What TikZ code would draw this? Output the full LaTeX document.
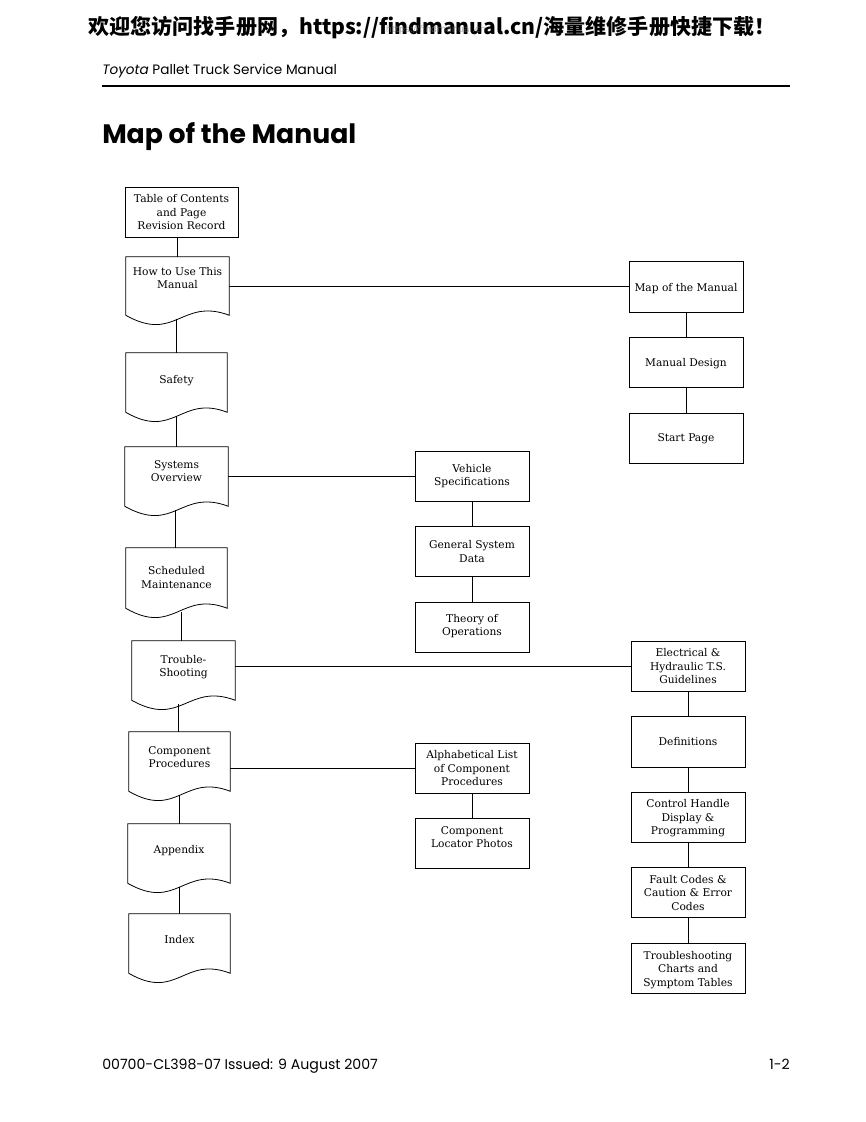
\documentclass[tikz,border=0pt]{standalone}
\usepackage{fontspec}
\setmainfont{DejaVu Serif}
\newfontfamily\boxfont{DejaVu Serif}
\newfontfamily\hdr{Poppins}
\newfontfamily\cjk{Noto Sans CJK SC}
\newfontfamily\wmfont{DejaVu Sans}
\usetikzlibrary{calc}
\newcommand\T[2]{\raisebox{\dimexpr#1pt-3.4pt\relax}[0pt][0pt]{\begin{tabular}{@{}c@{}}#2\end{tabular}}}
\tikzset{
  ln/.style={line width=0.6pt, draw=black},
  bx/.style 2 args={draw, line width=0.6pt, minimum width=#1*0.75pt, minimum height=#2*0.75pt,
     inner sep=0pt, font=\boxfont\fontsize{8}{10.1}\selectfont},
  dc/.style 2 args={draw=none, minimum width=#1*0.75pt, minimum height=#2*0.75pt,
     inner sep=0pt, font=\boxfont\fontsize{8}{10.1}\selectfont},
}
\newcommand\wave[1]{\draw[ln] (#1.south west) -- (#1.north west) -- (#1.north east) -- (#1.south east)
   .. controls ($(#1.south)+(4,-18)$) and ($(#1.south)+(-2,28)$) .. (#1.south west) -- cycle;}
\begin{document}
\begin{tikzpicture}[x=0.75pt,y=-0.75pt]
\useasboundingbox (0,0) rectangle (866,1122);
% header
\node[font=\cjk\bfseries\fontsize{15.8}{18}\selectfont, inner sep=0pt] (cn) at (432,28) {欢迎您访问找手册网，https://findmanual.cn/海量维修手册快捷下载！};
\node[font=\wmfont\fontsize{7}{8}\selectfont, text=gray, opacity=0.6, inner sep=0pt] (wm) at (436,30) {https://findmanual.cn};
\node[font=\hdr\fontsize{10.2}{12}\selectfont, anchor=base west, inner sep=0pt] (run) at (102,74) {\textit{Toyota} Pallet Truck Service Manual};
\coordinate (rl) at (102,86);
\coordinate (rr) at (790,86);
\draw[line width=1.5pt] (rl) -- (rr);
\node[font=\hdr\bfseries\fontsize{20}{24}\selectfont, anchor=base west, inner sep=0pt] (title) at (102,143) {Map of the Manual};
% left column
\node[bx={113}{50}] (toc) at (181.5,212) {\T{0.4}{Table of Contents\\and Page\\Revision Record}};
\node[dc={103}{58}] (howto) at (177.5,286) {\T{6.4}{How to Use This\\Manual}};
\node[dc={101}{59}] (safety) at (176.5,382.5) {\T{2.6}{Safety}};
\node[dc={103}{59}] (sys) at (176.5,476.5) {\T{4.5}{Systems\\Overview}};
\node[dc={101}{60}] (sched) at (176.5,578) {\T{0.75}{Scheduled\\Maintenance}};
\node[dc={103}{59}] (trouble) at (183.5,670.5) {\T{3.75}{Trouble-\\Shooting}};
\node[dc={101}{59}] (comp) at (179.5,761.5) {\T{3.75}{Component\\Procedures}};
\node[dc={102}{59}] (app) at (179,853.5) {\T{3.4}{Appendix}};
\node[dc={101}{59}] (index) at (179.5,943.5) {\T{3.4}{Index}};
\wave{howto}\wave{safety}\wave{sys}\wave{sched}\wave{trouble}\wave{comp}\wave{app}\wave{index}
% middle column
\node[bx={114}{50}] (veh) at (472,476) {\T{1.1}{Vehicle\\Specifications}};
\node[bx={114}{50}] (gen) at (472,551) {\T{0}{General System\\Data}};
\node[bx={114}{50}] (theory) at (472,627) {\T{1.9}{Theory of\\Operations}};
\node[bx={114}{50}] (alpha) at (472,768) {\T{0.4}{Alphabetical List\\of Component\\Procedures}};
\node[bx={114}{50}] (locator) at (472,843) {\T{4.9}{Component\\Locator Photos}};
% right column
\node[bx={114}{51}] (map) at (686,286.5) {\T{0}{Map of the Manual}};
\node[bx={114}{50}] (design) at (686,362) {\T{0}{Manual Design}};
\node[bx={114}{50}] (start) at (686,438) {\T{0.75}{Start Page}};
\node[bx={114}{50}] (elec) at (688,666) {\T{0.4}{Electrical \&\\Hydraulic T.S.\\Guidelines}};
\node[bx={114}{51}] (defs) at (688,741.5) {\T{0.4}{Definitions}};
\node[bx={114}{50}] (ctrl) at (688,817) {\T{0.4}{Control Handle\\Display \&\\Programming}};
\node[bx={114}{50}] (fault) at (688,892) {\T{0}{Fault Codes \&\\Caution \& Error\\Codes}};
\node[bx={114}{50}] (tsc) at (688,968) {\T{0}{Troubleshooting\\Charts and\\Symptom Tables}};
% vertical connectors, left (start on the wavy edge)
\draw[ln] (howto.north) -- (howto.north |- toc.south);
\draw[ln] (safety.north) -- ($(safety.north |- howto.south)+(0,4)$);
\draw[ln] (sys.north) -- ($(sys.north |- safety.south)+(0,4)$);
\draw[ln] ($(sched.north)+(-1.5,0)$) -- ($(sched.north |- sys.south)+(-1.5,4)$);
\draw[ln] ($(trouble.north)+(-2.5,0)$) -- ($(trouble.north |- sched.south)+(-2.5,4)$);
\draw[ln] ($(comp.north)+(-1.5,0)$) -- ($(comp.north |- trouble.south)+(-1.5,4)$);
\draw[ln] (app.north) -- ($(app.north |- comp.south)+(0,4)$);
\draw[ln] (index.north) -- ($(index.north |- app.south)+(0,4)$);
% horizontal connectors
\draw[ln] (map.west) -- (map.west -| howto.east);
\draw[ln] (veh.west) -- (veh.west -| sys.east);
\draw[ln] (elec.west) -- (elec.west -| trouble.east);
\draw[ln] (alpha.west) -- (alpha.west -| comp.east);
% middle / right verticals
\draw[ln] (veh.south) -- (gen.north);
\draw[ln] (gen.south) -- (theory.north);
\draw[ln] (alpha.south) -- (locator.north);
\draw[ln] (map.south) -- (design.north);
\draw[ln] (design.south) -- (start.north);
\draw[ln] (elec.south) -- (defs.north);
\draw[ln] (defs.south) -- (ctrl.north);
\draw[ln] (ctrl.south) -- (fault.north);
\draw[ln] (fault.south) -- (tsc.north);
% footer
\node[font=\hdr\fontsize{10.6}{12}\selectfont, anchor=base west, inner sep=0pt] (foot) at (102,1069) {00700-CL398-07 Issued: 9 August 2007};
\node[font=\hdr\fontsize{10.6}{12}\selectfont, anchor=base east, inner sep=0pt] (pg) at (790,1069) {1-2};
\end{tikzpicture}
\end{document}
